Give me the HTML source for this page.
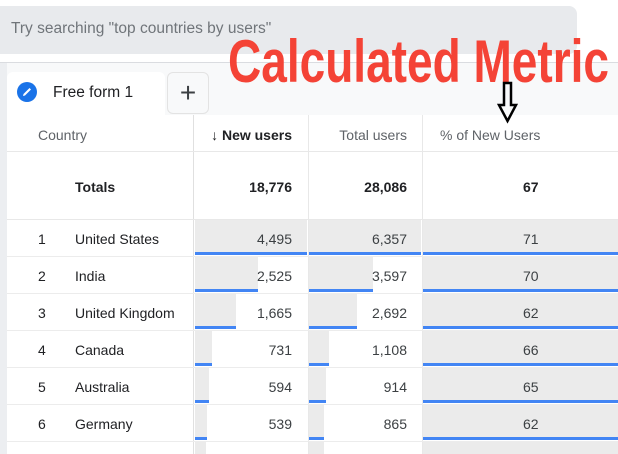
<!DOCTYPE html>
<html><head><style>
html,body{margin:0;width:618px;height:454px;overflow:hidden}
body{font-family:"Liberation Sans",sans-serif;color:#202124}
#w{position:relative;width:618px;height:454px;overflow:hidden;background:#f8f9fa}
#w div{position:absolute;box-sizing:border-box}
.t{font-size:14px;line-height:16px;white-space:nowrap}
.r{text-align:right}
</style></head><body><div id="w">
<div style="left:0;top:0;width:618px;height:62px;background:#fff"></div>
<div style="left:-10px;top:6px;width:587px;height:48px;background:#e8eaed;border-radius:8px"></div>
<div class="t" style="left:11px;top:21px;font-size:15.5px;color:#70757a">Try searching "top countries by users"</div>
<div style="left:0;top:62px;width:618px;height:1px;background:#dadce0"></div>
<div style="left:0;top:63px;width:7px;height:391px;background:#eceef1"></div>
<div style="left:7px;top:72px;width:158px;height:50px;background:#fff;border-radius:6px 6px 0 0"></div>
<div style="left:17px;top:82px;width:20px;height:20px;border-radius:50%;background:#1a73e8"></div>
<svg style="position:absolute;left:17px;top:82px" width="20" height="20"><path d="M6 14 L6.5 12 L12.5 6 L14 7.5 L8 13.5 Z" fill="#fff"/></svg>
<div class="t" style="left:53px;top:84px;font-size:15.5px;line-height:18px">Free form 1</div>
<svg style="position:absolute;left:170px;top:89px" width="12" height="8"><path d="M1 1 L11 1 L6 6Z" fill="#202124"/></svg>
<div style="left:167px;top:72px;width:42px;height:42px;background:#f8f9fa;border:1px solid #e3e3e3;border-radius:6px"></div>
<div style="left:176px;top:79px;width:24px;font-size:28px;line-height:28px;color:#3c4043;text-align:center;font-weight:300">+</div>
<div style="left:7px;top:115px;width:611px;height:339px;background:#fff"></div>
<div style="left:193px;top:115px;width:1px;height:339px;background:#e0e0e0"></div>
<div style="left:308px;top:115px;width:1px;height:339px;background:#e8e8e8"></div>
<div style="left:422px;top:115px;width:1px;height:339px;background:#e8e8e8"></div>
<div style="left:7px;top:151px;width:611px;height:1px;background:#e8e8e8"></div>
<div style="left:7px;top:219px;width:611px;height:1px;background:#e8e8e8"></div>
<div class="t" style="left:38px;top:127px;color:#5f6368">Country</div>
<div class="t r" style="left:193px;top:127px;width:99px;font-weight:bold;color:#202124">↓ New users</div>
<div class="t r" style="left:308px;top:127px;width:99px;color:#5f6368">Total users</div>
<div class="t" style="left:440px;top:127px;color:#5f6368">% of New Users</div>
<div class="t" style="left:75px;top:179px;font-weight:bold">Totals</div>
<div class="t r" style="left:193px;top:179px;width:99px;font-weight:bold">18,776</div>
<div class="t r" style="left:308px;top:179px;width:99px;font-weight:bold">28,086</div>
<div class="t" style="left:523px;top:179px;font-weight:bold">67</div>
<div id="rows"></div>
<svg style="position:absolute;left:220px;top:25px" width="395" height="100">
<text x="8" y="57" font-family="Liberation Sans Narrow, Liberation Sans, sans-serif" font-weight="bold" font-size="60" fill="#f44336" textLength="381" lengthAdjust="spacingAndGlyphs">Calculated Metric</text>
<path d="M284 58 L291 58 L291 80 L296 80 L287.5 96 L279 80 L284 80 Z" fill="none" stroke="#000" stroke-width="2.5"/>
</svg>
</div>
<script>
var d=[["1","United States","4,495","6,357","71",112,112],["2","India","2,525","3,597","70",63,64],["3","United Kingdom","1,665","2,692","62",41,48],["4","Canada","731","1,108","66",17,20],["5","Australia","594","914","65",14,17],["6","Germany","539","865","62",12,15],["","","","","",11,15]];
var h="";d.forEach(function(r,i){var t=219+37*i;
if(!r[0]){var g=454-(t+1);
h+='<div style="left:195px;top:'+(t+1)+'px;width:'+r[5]+'px;height:'+g+'px;background:#ebebeb"></div><div style="left:309px;top:'+(t+1)+'px;width:'+r[6]+'px;height:'+g+'px;background:#ebebeb"></div><div style="left:423px;top:'+(t+1)+'px;width:195px;height:'+g+'px;background:#ebebeb"></div>';return;}
h+='<div style="left:7px;top:'+(t+37)+'px;width:611px;height:1px;background:#ececec"></div>';
h+='<div style="left:195px;top:'+(t+1)+'px;width:'+r[5]+'px;height:32px;background:#ebebeb"></div><div style="left:195px;top:'+(t+33)+'px;width:'+r[5]+'px;height:3px;background:#4285f4"></div>';
h+='<div style="left:309px;top:'+(t+1)+'px;width:'+r[6]+'px;height:32px;background:#ebebeb"></div><div style="left:309px;top:'+(t+33)+'px;width:'+r[6]+'px;height:3px;background:#4285f4"></div>';
h+='<div style="left:423px;top:'+(t+1)+'px;width:195px;height:32px;background:#ebebeb"></div><div style="left:423px;top:'+(t+33)+'px;width:195px;height:3px;background:#4285f4"></div>';
h+='<div class="t" style="left:38px;top:'+(t+12)+'px">'+r[0]+'</div><div class="t" style="left:75px;top:'+(t+12)+'px">'+r[1]+'</div>';
h+='<div class="t r" style="left:193px;top:'+(t+12)+'px;width:99px;color:#3c4043">'+r[2]+'</div><div class="t r" style="left:308px;top:'+(t+12)+'px;width:99px;color:#3c4043">'+r[3]+'</div><div class="t" style="left:523px;top:'+(t+12)+'px;color:#3c4043">'+r[4]+'</div>';
});document.getElementById("rows").outerHTML=h;
</script>
</body></html>
